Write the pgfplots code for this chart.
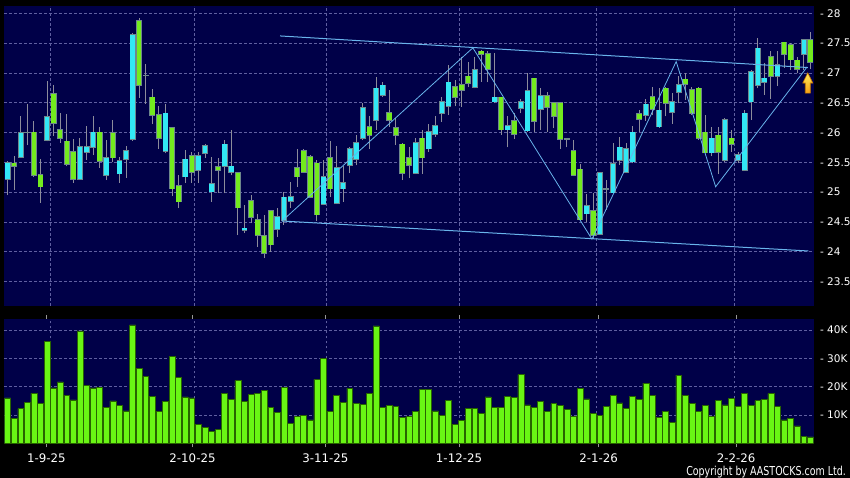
\documentclass[border=0pt]{standalone}
\usepackage{fontspec}
\setmainfont{DejaVu Sans}
\usepackage{graphicx}
\usepackage{pgfplots}
\usepackage{pgfplotstable}
\pgfplotsset{compat=1.18}

\definecolor{bgnavy}{RGB}{0,0,72}
\definecolor{gridcol}{RGB}{95,95,160}
\definecolor{upcol}{RGB}{50,232,245}
\definecolor{downcol}{RGB}{115,235,30}
\definecolor{bodyedge}{RGB}{110,135,140}
\definecolor{wickcol}{RGB}{140,140,155}
\definecolor{vollime}{RGB}{105,245,20}
\definecolor{voledge}{RGB}{40,100,0}
\definecolor{trendcol}{RGB}{105,180,235}
\definecolor{tickgrey}{RGB}{150,150,150}

% i = trading day, o h l c = price, v = volume in thousands
\pgfplotstableread{
i o h l c v
0 25.22 25.52 24.95 25.49 16.1
1 25.48 25.61 25.04 25.44 8.8
2 25.59 26.27 25.57 25.99 12.3
3 26.00 26.48 25.79 26.00 14.4
4 26.00 26.20 25.25 25.29 17.7
5 25.29 25.55 24.82 25.09 14.1
6 25.87 26.86 25.85 26.26 36.1
7 26.65 26.80 25.94 26.16 19.6
8 26.05 26.32 25.83 25.90 21.7
9 25.85 26.31 25.43 25.47 16.9
10 25.67 25.89 25.16 25.22 15.4
11 25.22 25.90 25.20 25.76 39.7
12 25.67 26.11 25.54 25.76 20.6
13 25.76 26.28 25.62 26.00 19.6
14 26.00 26.10 25.41 25.52 19.8
15 25.28 25.87 25.20 25.58 12.6
16 25.99 26.21 25.50 25.58 15.0
17 25.31 25.59 25.16 25.53 13.3
18 25.55 25.78 25.24 25.69 11.5
19 25.89 27.67 25.86 27.64 41.8
20 27.87 27.92 26.58 26.79 26.6
21 26.96 27.15 26.48 26.96 23.6
22 26.59 26.73 26.14 26.29 16.7
23 26.29 26.44 25.73 25.90 11.3
24 25.69 26.48 25.65 26.32 14.8
25 26.08 26.10 24.93 25.06 30.6
26 25.10 25.29 24.73 24.84 23.3
27 25.26 25.71 25.16 25.55 16.4
28 25.61 25.68 25.15 25.34 16.1
29 25.37 25.68 25.15 25.61 6.7
30 25.65 25.81 25.57 25.77 5.6
31 25.01 25.59 24.84 25.14 4.2
32 25.42 25.58 24.99 25.37 5.0
33 25.44 25.87 24.98 25.80 17.8
34 25.33 26.05 25.28 25.43 15.6
35 25.32 25.33 24.28 24.74 22.2
36 24.36 24.78 24.31 24.39 14.8
37 24.85 24.95 24.48 24.58 17.3
38 24.53 24.64 24.08 24.28 17.8
39 24.26 24.62 23.89 23.97 18.7
40 24.68 24.69 24.00 24.12 12.8
41 24.38 24.73 24.25 24.59 10.9
42 24.53 25.01 24.45 24.91 19.9
43 24.85 25.17 24.73 24.92 7.0
44 25.41 25.73 25.09 25.26 9.6
45 25.69 25.72 25.32 25.33 10.0
46 25.59 25.62 24.90 24.92 8.3
47 25.48 25.54 24.52 24.62 22.6
48 24.80 25.54 24.78 25.25 29.9
49 25.58 25.85 24.92 25.06 11.4
50 24.81 25.77 24.80 25.41 17.1
51 25.06 25.43 24.84 25.15 14.4
52 25.45 25.76 25.32 25.73 19.5
53 25.55 25.96 25.45 25.83 14.1
54 25.90 26.49 25.87 26.41 13.7
55 26.10 26.27 25.73 25.96 17.6
56 26.21 26.93 26.04 26.74 41.5
57 26.63 26.84 26.60 26.79 12.7
58 26.33 26.71 26.10 26.21 13.4
59 26.08 26.24 25.79 25.96 13.0
60 25.80 25.82 25.20 25.32 9.3
61 25.58 25.76 25.23 25.45 9.5
62 25.32 25.90 25.30 25.83 11.2
63 25.90 26.04 25.30 25.58 19.0
64 25.73 26.15 25.68 26.01 19.0
65 25.97 26.27 25.93 26.11 11.5
66 26.32 26.60 26.18 26.51 10.0
67 26.44 27.13 26.29 26.84 15.3
68 26.76 26.88 26.44 26.59 6.6
69 26.80 27.27 26.43 26.71 8.1
70 26.94 27.19 26.76 26.83 12.3
71 26.76 27.27 26.74 27.05 12.4
72 27.36 27.38 26.85 27.32 10.5
73 27.32 27.36 26.84 27.06 16.4
74 26.52 27.33 26.49 26.59 12.7
75 26.59 26.60 25.96 26.05 12.8
76 26.05 26.27 25.75 26.11 16.7
77 26.20 26.32 25.89 25.97 16.2
78 26.41 26.57 26.32 26.52 24.3
79 26.03 26.99 26.01 26.70 13.6
80 26.91 26.92 26.01 26.19 12.7
81 26.39 26.74 26.04 26.61 14.9
82 26.61 26.68 26.01 26.43 11.2
83 26.50 26.52 26.07 26.27 14.0
84 26.50 26.52 25.73 25.89 13.3
85 25.89 25.90 25.75 25.89 11.9
86 25.69 25.87 25.27 25.29 9.6
87 25.38 25.47 24.52 24.54 19.5
88 24.64 24.97 24.50 24.77 15.7
89 24.68 24.98 24.21 24.28 10.6
90 24.29 25.34 24.28 25.32 9.9
91 25.05 25.20 24.70 25.05 13.1
92 24.99 25.82 24.98 25.47 17.1
93 25.54 25.93 25.46 25.75 14.3
94 25.34 25.82 25.32 25.73 12.4
95 25.51 26.11 25.48 26.00 16.7
96 26.31 26.38 26.01 26.22 15.5
97 26.29 26.56 26.20 26.47 21.3
98 26.60 26.76 26.29 26.39 17.1
99 26.10 26.74 26.08 26.37 9.3
100 26.74 26.76 26.27 26.49 11.2
101 26.34 26.66 26.15 26.51 7.4
102 26.68 26.94 26.49 26.80 24.1
103 26.89 26.99 26.55 26.81 16.9
104 26.72 26.76 26.30 26.32 14.2
105 26.74 26.76 25.88 25.90 11.3
106 26.00 26.29 25.65 25.66 13.5
107 25.66 26.10 25.60 25.90 9.5
108 25.95 26.10 25.30 25.67 15.3
109 25.54 26.24 25.51 26.21 13.6
110 25.90 26.04 25.68 25.80 15.9
111 25.54 25.68 25.48 25.63 13.0
112 25.37 26.38 25.36 26.32 17.7
113 26.52 27.05 26.21 27.02 13.3
114 26.80 27.58 26.74 27.41 15.1
115 26.84 27.16 26.63 26.91 15.5
116 27.27 27.37 26.57 26.94 17.6
117 26.95 27.36 26.78 27.13 13.0
118 27.51 27.52 27.08 27.32 8.3
119 27.47 27.50 27.05 27.22 8.8
120 27.21 27.27 26.99 27.06 6.2
121 27.32 27.56 27.05 27.55 2.5
122 27.55 27.68 27.06 27.18 2.3
}\quotes

\pgfplotsset{
  panel/.style={
    scale only axis, width=809.4pt, anchor=south west,
    xmin=-0.5, xmax=122.5,
    axis background/.style={fill=bgnavy},
    axis line style={draw=none},
    major tick length=0pt,
    xtick={6.5,28.4,48.5,68.6,89.5,110.5}, xticklabels={},
    grid=major,
    grid style={gridcol, dash pattern=on 2.5pt off 2.5pt, line width=0.6pt},
    yticklabel pos=right,
    yticklabel style={text=white, font=\fontsize{10.5}{12}\selectfont, anchor=west, xshift=3pt},
    /pgf/number format/assume math mode=true,
  },
  % one stroke per candle part, drawn upwards from its lower end; no marks, no line
  candle/.style={draw=none, mark=none,
    error bars/y dir=plus, error bars/y explicit, error bars/error mark=none},
}

\begin{document}
\begin{tikzpicture}
\fill[black] (0pt,0pt) rectangle (850pt,478pt);

\begin{axis}[panel, at={(4.3pt,172pt)}, height=300pt,
  ymin=23.089, ymax=28.1225,
  ytick={23.5,24,24.5,25,25.5,26,26.5,27,27.5,28},
  yticklabel={-\hspace{0.3em}\pgfmathprintnumber{\tick}},
]
% wicks
\addplot[candle, error bars/error bar style={draw=wickcol, line width=1pt}]
  table[x=i, y=l, y error expr={\thisrow{h}-\thisrow{l}}] {\quotes};
% body edges
\addplot[candle, error bars/error bar style={draw=bodyedge, line width=5.9pt}]
  table[x=i, y expr={min(\thisrow{o},\thisrow{c})-0.012}, y error expr={abs(\thisrow{c}-\thisrow{o})+0.024}] {\quotes};
% rising bodies
\addplot[candle, restrict expr to domain={\thisrow{c}-\thisrow{o}}{0.001:10},
  error bars/error bar style={draw=upcol, line width=4.5pt}]
  table[x=i, y=o, y error expr={\thisrow{c}-\thisrow{o}}] {\quotes};
% falling bodies
\addplot[candle, restrict expr to domain={\thisrow{c}-\thisrow{o}}{-10:-0.001},
  error bars/error bar style={draw=downcol, line width=4.5pt}]
  table[x=i, y=c, y error expr={\thisrow{o}-\thisrow{c}}] {\quotes};

% channel and zigzag
\addplot[trendcol, line width=1pt] coordinates {(41.4,27.62) (121.6,27.09)};
\addplot[trendcol, line width=1pt] coordinates {(41.7,24.515) (121.7,24.012)};
\addplot[trendcol, line width=0.8pt] coordinates {
  (41.7,24.515) (70.7,27.42) (88.8,24.21) (101.6,27.19) (107.6,25.09) (121.5,27.10)};

% up arrow
\draw[draw={rgb,255:red,200;green,120;blue,0}, line width=0.6pt,
  top color={rgb,255:red,255;green,235;blue,90}, bottom color={rgb,255:red,245;green,160;blue,20}]
  (axis cs:121.6,27.0) -- (axis cs:122.36,26.83) -- (axis cs:121.98,26.83) -- (axis cs:121.98,26.66)
  -- (axis cs:121.22,26.66) -- (axis cs:121.22,26.83) -- (axis cs:120.84,26.83) -- cycle;
\end{axis}

\begin{axis}[panel, at={(4.3pt,34.5pt)}, height=124.5pt,
  ymin=0, ymax=43.9,
  ytick={10,20,30,40},
  yticklabel={-\hspace{0.3em}\pgfmathprintnumber{\tick}K},
  extra x ticks={5.9,28.1,48.3,68.6,89.8,110.7},
  extra x tick labels={1-9-25,2-10-25,3-11-25,1-12-25,2-1-26,2-2-26},
  extra x tick style={grid=none, major tick length=4pt, tick align=outside,
    xtick style={draw=tickgrey, line width=0.8pt},
    xticklabel style={text=white, font=\fontsize{11.8}{13}\selectfont, yshift=-3pt}},
]
\addplot[ybar, bar width=5.9pt, fill=vollime, draw=voledge, line width=0.6pt]
  table[x=i, y=v] {\quotes};
\end{axis}

\node[anchor=east, inner sep=0pt, text=white] at (846pt,6.3pt)
  {\fontsize{12.3}{14}\selectfont\scalebox{0.77}[1]{Copyright by AASTOCKS.com Ltd.}};
\pgfresetboundingbox
\path (0pt,0pt) rectangle (850pt,478pt);
\end{tikzpicture}
\end{document}
